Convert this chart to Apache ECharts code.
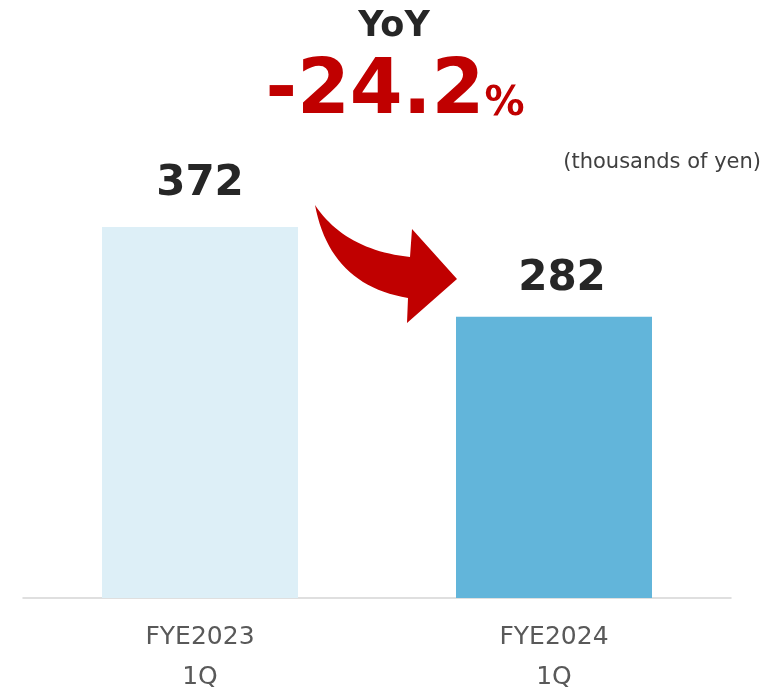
<!DOCTYPE html>
<html>
<head>
<meta charset="utf-8">
<style>
  html, body { margin: 0; padding: 0; background: #fff; }
  #main { width: 779px; height: 689px; }
</style>
<script src="https://cdn.jsdelivr.net/npm/echarts@6/dist/echarts.min.js"></script>
</head>
<body>
<div id="main"></div>
<script>
  // 数据
  var categories = ['FYE2023\n1Q', 'FYE2024\n1Q']
  var values = [372, 282]
  var yoyText = '-24.2'
  var unitText = '(thousands of yen)'

  var barColors = ['#DDEFF7', '#62B5DA']

  // 箭头轮廓：两条二次曲线加箭头头部，采样成多边形
  function quad(p0, c, p1, n) {
    var pts = []
    for (var i = 0; i <= n; i++) {
      var t = i / n
      var a = (1 - t) * (1 - t), b = 2 * t * (1 - t), d = t * t
      pts.push([a * p0[0] + b * c[0] + d * p1[0], a * p0[1] + b * c[1] + d * p1[1]])
    }
    return pts
  }
  var arrowPts = quad([315, 205], [345, 250], [410, 257], 24)
    .concat([[412, 229], [457, 279], [407, 323]])
    .concat(quad([408, 298], [330, 285], [315, 205], 24))

  var myChart = echarts.init(document.getElementById('main'))

  var option = {
    animation: false,
    grid: {
      left: 23,
      right: 48,
      top: 199,
      bottom: 91,
      outerBoundsMode: 'none'
    },
    xAxis: {
      type: 'category',
      data: categories,
      axisLine: { lineStyle: { color: '#D5D5D5', width: 1.5 } },
      axisTick: { show: false },
      axisLabel: {
        color: '#595959',
        fontFamily: 'DejaVu Sans',
        fontSize: 25,
        lineHeight: 40,
        margin: 19
      }
    },
    yAxis: {
      type: 'value',
      min: 0,
      max: 400,
      show: false
    },
    series: [
      {
        type: 'bar',
        barWidth: 196,
        data: values.map(function (v, i) {
          return {
            value: v,
            itemStyle: { color: barColors[i] },
            label: i === 0 ? { distance: 22 } : { distance: 17, offset: [8, 0] }
          }
        }),
        label: {
          show: true,
          position: 'top',
          color: '#262626',
          fontFamily: 'DejaVu Sans',
          fontWeight: 'bold',
          fontSize: 42
        }
      }
    ],
    graphic: [
      {
        type: 'text',
        style: {
          x: 394, y: 27,
          text: 'YoY',
          align: 'center',
          verticalAlign: 'middle',
          fill: '#262626',
          font: 'bold 35px "DejaVu Sans"'
        }
      },
      {
        type: 'text',
        style: {
          x: 395, y: 93,
          text: '{a|' + yoyText + '}{b|%}',
          align: 'center',
          verticalAlign: 'middle',
          rich: {
            a: { fill: '#C00000', fontFamily: 'DejaVu Sans', fontWeight: 'bold', fontSize: 76, verticalAlign: 'bottom' },
            b: { fill: '#C00000', fontFamily: 'DejaVu Sans', fontWeight: 'bold', fontSize: 40, verticalAlign: 'bottom', padding: [0, 0, 6, 0] }
          }
        }
      },
      {
        type: 'text',
        style: {
          x: 761, y: 163,
          text: unitText,
          align: 'right',
          verticalAlign: 'middle',
          fill: '#404040',
          font: '21px "DejaVu Sans"'
        }
      },
      {
        type: 'polygon',
        shape: { points: arrowPts },
        style: { fill: '#C00000' }
      }
    ]
  }

  myChart.setOption(option)
</script>
</body>
</html>
